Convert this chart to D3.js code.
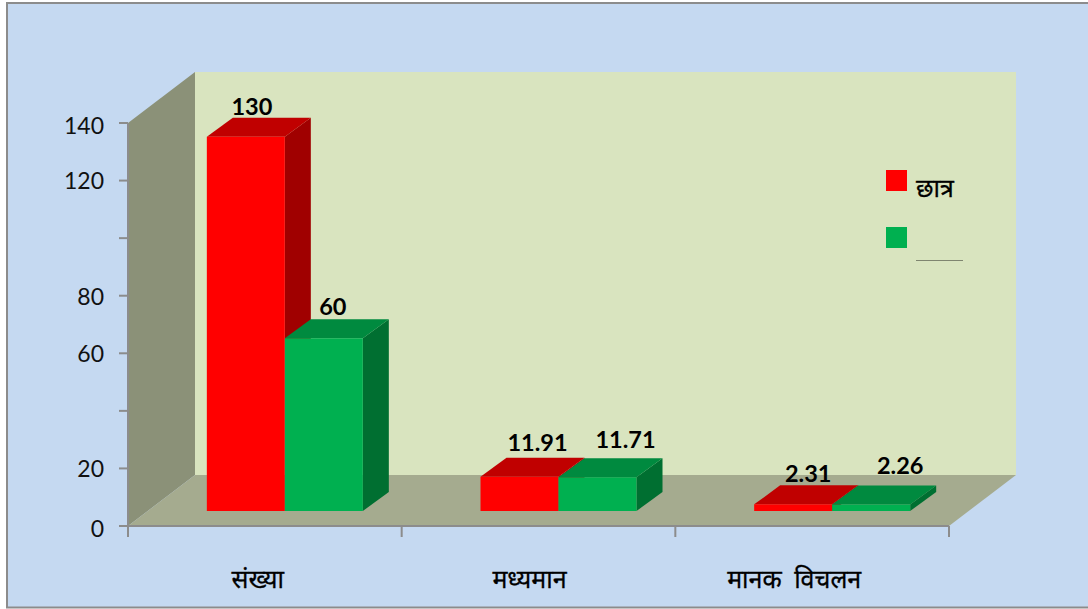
<!DOCTYPE html>
<html>
<head>
<meta charset="utf-8">
<script src="https://cdn.jsdelivr.net/npm/d3@7"></script>
<style>
  html, body { margin: 0; padding: 0; background: #fff; }
  svg { display: block; }
  .tick-label { font-family: Lato, sans-serif; font-size: 23px; fill: #111; }
  .value { font-family: Lato, sans-serif; font-size: 23.5px; font-weight: 700; fill: #000; }
  .hindi { font-family: "Noto Sans", "Noto Sans Devanagari", sans-serif; font-size: 25px; fill: #000; stroke: #000; stroke-width: 0.3px; word-spacing: 6px; }
</style>
</head>
<body>
<svg width="1088" height="609"></svg>
<script>
const categories = ['संख्या', 'मध्यमान', 'मानक विचलन']
const seriesNames = ['छात्र', '']
const boys = [130, 11.91, 2.31]
const girls = [60, 11.71, 2.26]
const tickValues = [0, 20, 40, 60, 80, 100, 120, 140]
const tickLabels = ['0', '20', '', '60', '80', '', '120', '140']

const colors = [
  { front: '#ff0000', top: '#c00000', side: '#a00000' },
  { front: '#00b050', top: '#008a3f', side: '#006f31' }
]

const svg = d3.select('svg')

svg.append('rect')
  .attr('x', 7).attr('y', 3)
  .attr('width', 1090).attr('height', 604.5)
  .attr('fill', '#c5d9f1')
  .attr('stroke', '#8c8c8c')
  .attr('stroke-width', 2)

// plot box, front corner of the floor is (plotLeft, plotBottom)
const plotLeft = 128, plotRight = 949, plotBottom = 526, plotTop = 123
const depthX = 67, depthY = 51

const xScale = d3.scaleBand().domain(categories).range([plotLeft, plotRight])
const yScale = d3.scaleLinear().domain([0, 140]).range([plotBottom, plotTop])
const subScale = d3.scaleBand().domain([0, 1]).range([-78, 78])

const poly = (pts, fill) => svg.append('polygon')
  .attr('points', pts.map(p => p.join(',')).join(' '))
  .attr('fill', fill)

// walls and floor
poly([[plotLeft + depthX, plotTop - depthY], [plotRight + depthX, plotTop - depthY], [plotRight + depthX, plotBottom - depthY], [plotLeft + depthX, plotBottom - depthY]], '#d9e4bf')
poly([[plotLeft, plotTop], [plotLeft + depthX, plotTop - depthY], [plotLeft + depthX, plotBottom - depthY], [plotLeft, plotBottom]], '#8b9178')
poly([[plotLeft, plotBottom], [plotLeft + depthX, plotBottom - depthY], [plotRight + depthX, plotBottom - depthY], [plotRight, plotBottom]], '#a5ab8f')

// axes
const axisColor = '#8c8c8c'
svg.append('line').attr('x1', plotLeft).attr('x2', plotLeft).attr('y1', plotTop).attr('y2', plotBottom + 11)
  .attr('stroke', axisColor).attr('stroke-width', 2)
svg.append('line').attr('x1', plotLeft).attr('x2', plotRight).attr('y1', plotBottom).attr('y2', plotBottom)
  .attr('stroke', axisColor).attr('stroke-width', 2)

// tick labels are not quite level with their ticks in the source
const tickNudge = [3, 1, 0, 1, 1, 0, 0, 3]
tickValues.forEach((v, i) => {
  svg.append('line')
    .attr('x1', plotLeft - 9).attr('x2', plotLeft)
    .attr('y1', yScale(v)).attr('y2', yScale(v))
    .attr('stroke', axisColor).attr('stroke-width', 2)
  svg.append('text')
    .attr('class', 'tick-label')
    .attr('x', 104).attr('y', yScale(v) + 8 + tickNudge[i])
    .attr('text-anchor', 'end')
    .text(tickLabels[i])
})

const catNudge = [-7, -9, -18]
categories.forEach((c, i) => {
  const tx = xScale(c) + xScale.bandwidth()
  svg.append('line')
    .attr('x1', tx).attr('x2', tx)
    .attr('y1', plotBottom).attr('y2', plotBottom + 11)
    .attr('stroke', axisColor).attr('stroke-width', 2)
  svg.append('text')
    .attr('class', 'hindi')
    .attr('x', xScale(c) + xScale.bandwidth() / 2 + catNudge[i])
    .attr('y', 588)
    .attr('text-anchor', 'middle')
    .text(c)
})

// bars, the base sits a bit inside the floor
const baseX = 20, baseY = 15, barDX = 26, barDY = 19
const labelNudge = [[[6, -30], [18, -34], [15, -30]], [[9, -31], [28, -37], [29, -38]]]

const seriesList = [boys, girls]
seriesList.forEach((vals, s) => {
  vals.forEach((v, i) => {
    const c = categories[i]
    const x0 = xScale(c) + xScale.bandwidth() / 2 + baseX + subScale(s)
    const x1 = x0 + subScale.bandwidth()
    const y1 = plotBottom - baseY
    const y0 = y1 - (plotBottom - yScale(v))
    poly([[x1, y0], [x1 + barDX, y0 - barDY], [x1 + barDX, y1 - barDY], [x1, y1]], colors[s].side)
    poly([[x0, y0], [x0 + barDX, y0 - barDY], [x1 + barDX, y0 - barDY], [x1, y0]], colors[s].top)
    poly([[x0, y0], [x1, y0], [x1, y1], [x0, y1]], colors[s].front)
  })
})

// labels go on last so a neighbouring bar does not cover them
seriesList.forEach((vals, s) => {
  vals.forEach((v, i) => {
    const c = categories[i]
    const cx = xScale(c) + xScale.bandwidth() / 2 + baseX + subScale(s) + subScale.bandwidth() / 2
    const y0 = plotBottom - baseY - (plotBottom - yScale(v))
    svg.append('text')
      .attr('class', 'value')
      .attr('x', cx + labelNudge[s][i][0])
      .attr('y', y0 + labelNudge[s][i][1] + 8)
      .attr('text-anchor', 'middle')
      .text(v)
  })
})

// legend
seriesNames.forEach((name, s) => {
  const ly = 170 + s * 57
  svg.append('rect')
    .attr('x', 886).attr('y', ly)
    .attr('width', 21).attr('height', 21)
    .attr('fill', colors[s].front)
  if (name) {
    svg.append('text')
      .attr('class', 'hindi')
      .attr('x', 916).attr('y', ly + 27)
      .text(name)
  }
})
// second legend entry is squashed flat in the source
svg.append('line')
  .attr('x1', 916).attr('x2', 963)
  .attr('y1', 260.5).attr('y2', 260.5)
  .attr('stroke', '#7f8570').attr('stroke-width', 1)
</script>
</body>
</html>
